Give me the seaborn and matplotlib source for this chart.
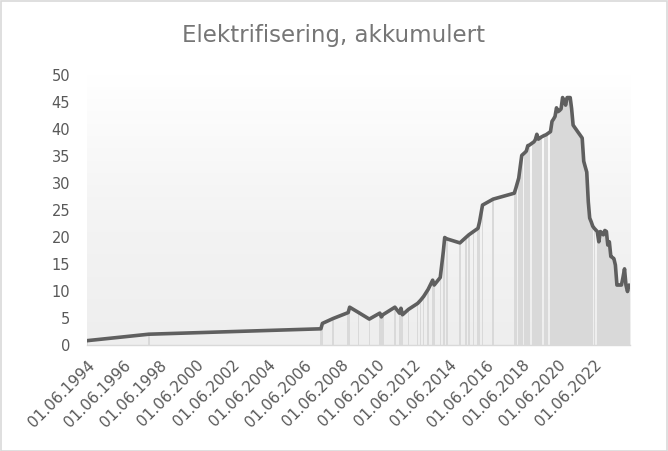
import matplotlib
matplotlib.use("Agg")
import matplotlib.pyplot as plt
import matplotlib.dates as mdates
from matplotlib.colors import LinearSegmentedColormap
from matplotlib.patches import Rectangle
import numpy as np
import pandas as pd
import seaborn as sns

# data (month, cumulative value)
datoer = [
    "1994-06", "1997-11", "2007-05", "2007-06", "2008-01", "2008-11", "2008-12",
    "2009-06", "2010-01", "2010-08", "2010-09", "2010-10", "2011-06", "2011-09",
    "2011-10", "2011-11", "2012-03", "2012-09", "2012-11", "2013-01", "2013-04",
    "2013-07", "2013-08", "2013-12", "2014-02", "2014-03", "2014-04", "2014-05",
    "2015-01", "2015-05", "2015-07", "2015-10", "2016-01", "2016-02", "2016-04",
    "2016-11", "2018-01", "2018-02", "2018-04", "2018-05", "2018-06", "2018-08",
    "2018-09", "2018-10", "2018-11", "2019-01", "2019-02", "2019-03", "2019-04",
    "2019-05", "2019-06", "2019-07", "2019-09", "2019-10", "2019-11", "2020-01",
    "2020-02", "2020-03", "2020-04", "2020-05", "2020-06", "2020-07", "2020-08",
    "2020-09", "2020-10", "2020-11", "2020-12", "2021-01", "2021-02", "2021-03",
    "2021-04", "2021-05", "2021-06", "2021-07", "2021-08", "2021-09", "2021-10",
    "2021-11", "2021-12", "2022-01", "2022-02", "2022-03", "2022-04", "2022-05",
    "2022-06", "2022-08", "2022-09", "2022-10", "2022-11", "2022-12", "2023-01",
    "2023-02", "2023-03", "2023-04", "2023-05", "2023-06", "2023-07", "2023-08",
    "2023-09", "2023-10", "2023-11", "2023-12", "2024-01", "2024-02", "2024-03",
    "2024-04", "2024-05",
]
verdier = [
    0.8, 2.0, 3.0, 4.0, 4.9, 6.0, 7.0,
    6.0, 4.8, 5.9, 5.2, 5.6, 7.0, 5.9,
    6.8, 5.6, 6.6, 7.7, 8.3, 9.0, 10.3,
    12.0, 11.1, 12.5, 17.3, 19.9, 19.7, 19.6,
    18.9, 19.9, 20.4, 21.0, 21.6, 22.8, 25.9,
    27.0, 28.1, 29.0, 30.9, 33.0, 35.1, 35.6,
    35.9, 36.9, 37.0, 37.4, 37.6, 38.0, 39.0,
    38.1, 38.3, 38.5, 38.8, 38.9, 39.1, 39.5,
    41.4, 41.8, 42.3, 43.9, 43.2, 43.4, 43.7,
    45.8, 45.2, 44.4, 45.8, 45.8, 45.8, 43.8,
    40.7, 40.3, 39.9, 39.5, 39.1, 38.7, 38.3,
    34.0, 33.0, 32.0, 26.5, 23.5, 22.8, 22.0,
    21.6, 21.0, 19.1, 21.0, 20.8, 20.4, 21.2,
    21.0, 18.5, 19.1, 16.4, 16.2, 16.0, 14.8,
    11.1, 11.1, 11.1, 11.1, 12.5, 14.1, 11.1,
    9.9, 11.1,
]
tick_datoer = pd.date_range("1994-06-01", "2022-06-01", freq="24MS")

df = pd.DataFrame({"dato": pd.to_datetime(datoer), "verdi": verdier})

sns.set_style("white")
plt.rcParams["font.family"] = ["DejaVu Sans"]

fig = plt.figure(figsize=(6.68, 4.51), dpi=100)
ax = fig.add_axes([0.130, 0.235, 0.813, 0.599])

x0 = pd.Timestamp("1994-06-01")
x1 = pd.Timestamp("2024-05-20")

# plot area: white at top, light grey at the bottom
grad = np.linspace(0, 1, 256).reshape(-1, 1)
cmap = LinearSegmentedColormap.from_list("g", ["#eeeeee", "#f4f4f4", "#ffffff"])
ax.imshow(grad, extent=[mdates.date2num(x0), mdates.date2num(x1), 0, 50],
          aspect="auto", cmap=cmap, origin="lower", zorder=0)

ax.bar(df["dato"], df["verdi"], width=30, color="#d9d9d9", linewidth=0, zorder=1)
sns.lineplot(data=df, x="dato", y="verdi", ax=ax, color="#5f5f5f", linewidth=2.6,
             zorder=3)
for l in ax.lines:
    l.set_solid_joinstyle("round")
    l.set_solid_capstyle("round")

ax.set_xlim(x0, x1)
ax.set_ylim(0, 50)
ax.set_yticks(range(0, 51, 5))
ax.set_xticks(tick_datoer)
ax.set_xticklabels([d.strftime("%d.%m.%Y") for d in tick_datoer], rotation=45,
                   ha="right", rotation_mode="anchor")
ax.set_xlabel("")
ax.set_ylabel("")

for s in ["top", "right", "left"]:
    ax.spines[s].set_visible(False)
ax.spines["bottom"].set_color("#d9d9d9")
ax.spines["bottom"].set_linewidth(1.0)
ax.spines["bottom"].set_zorder(4)
ax.tick_params(axis="y", length=0, pad=12, labelsize=10.5, labelcolor="#595959")
ax.tick_params(axis="x", length=5, width=1, color="#d9d9d9", pad=4,
               labelsize=11, labelcolor="#595959", direction="out")
ax.grid(False)

fig.text(0.5, 0.922, "Elektrifisering, akkumulert", ha="center", va="center",
         fontsize=16.5, color="#767676")

fig.patches.append(Rectangle((0.001, 0.001), 0.997, 0.997, transform=fig.transFigure,
                             fill=False, edgecolor="#d9d9d9", linewidth=1.2))

fig.savefig("out.png", dpi=100)
